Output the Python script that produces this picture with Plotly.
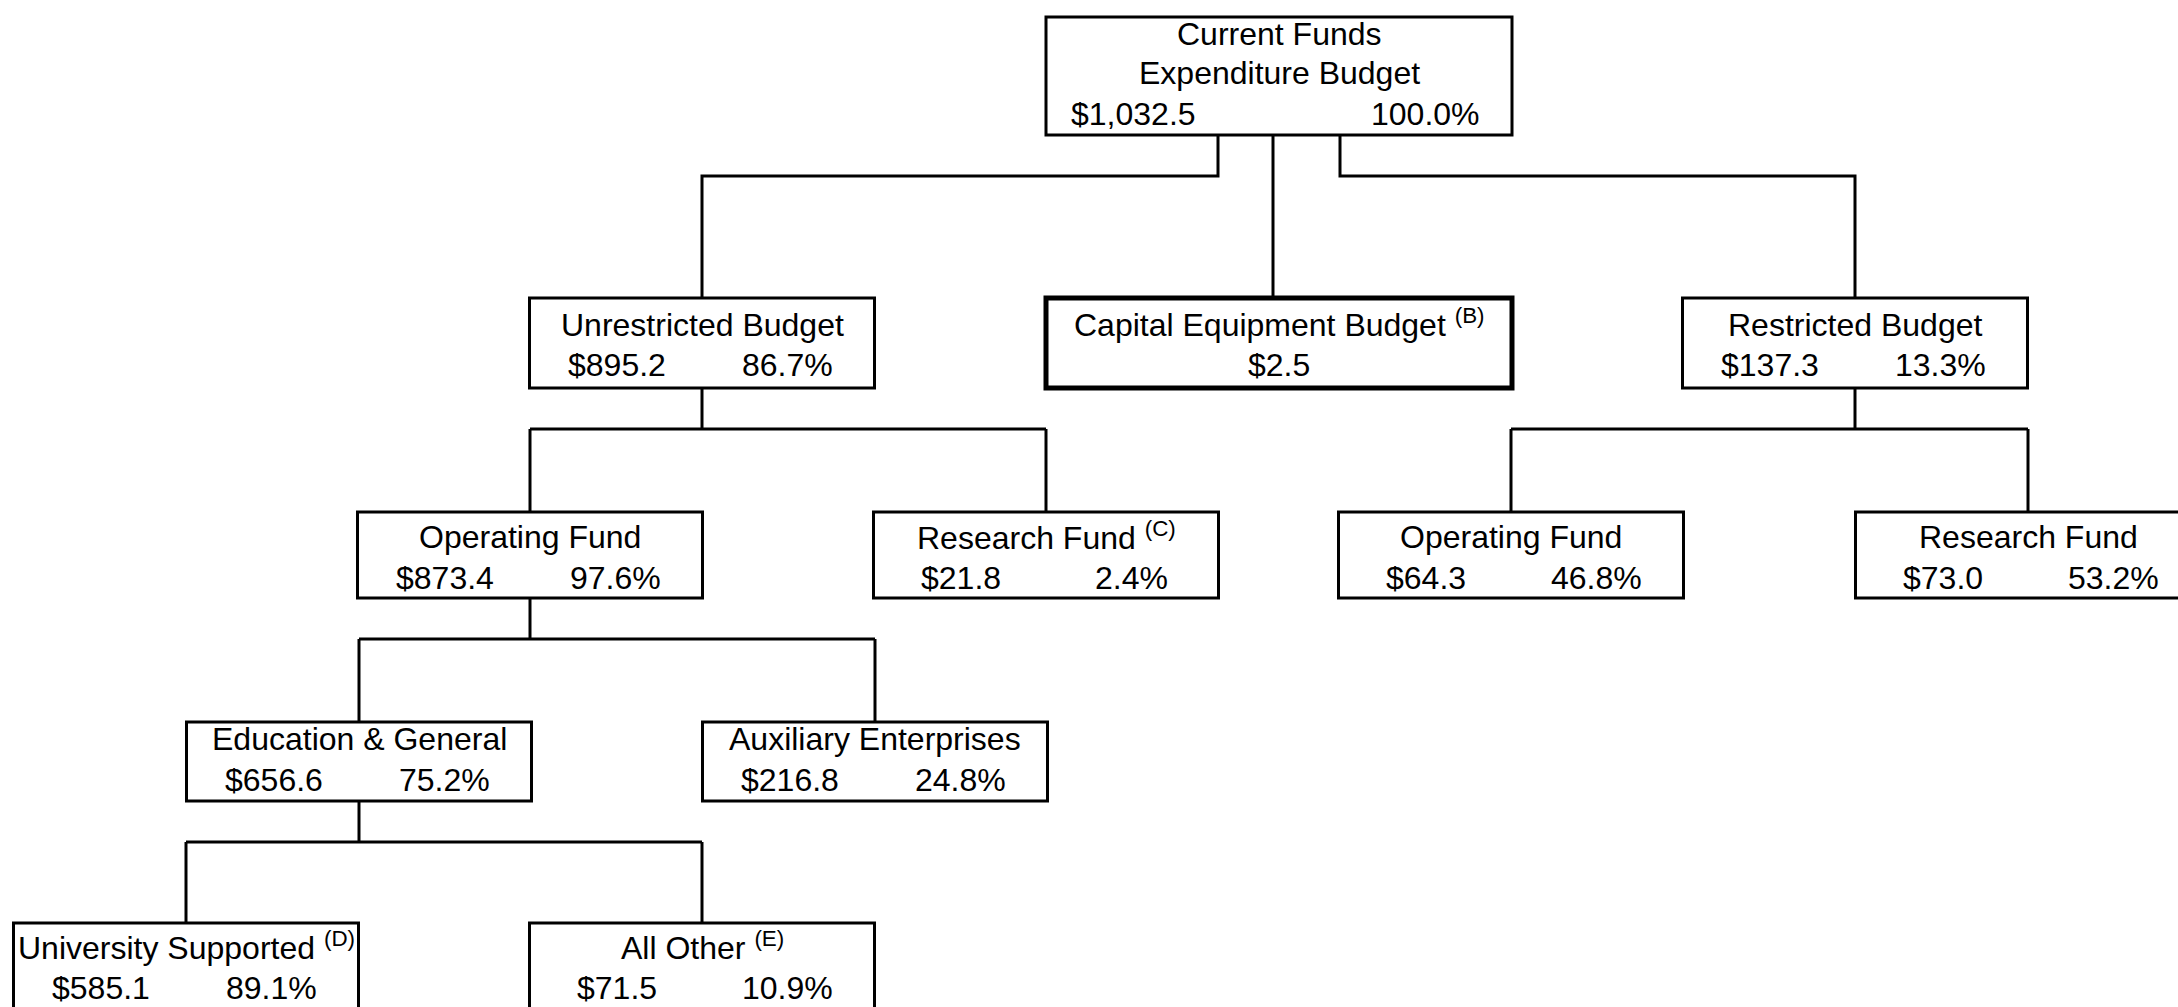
import plotly.graph_objects as go

# ---------------- data ----------------
node_ids = ["root", "unr", "cap", "res", "unr_op", "unr_rf",
            "res_op", "res_rf", "eg", "aux", "univ", "other"]
titles = [
    ["Current Funds", "Expenditure Budget"],
    ["Unrestricted Budget"],
    ["Capital Equipment Budget"],
    ["Restricted Budget"],
    ["Operating Fund"],
    ["Research Fund"],
    ["Operating Fund"],
    ["Research Fund"],
    ["Education & General"],
    ["Auxiliary Enterprises"],
    ["University Supported"],
    ["All Other"],
]
amounts = [1032.5, 895.2, 2.5, 137.3, 873.4, 21.8, 64.3, 73.0, 656.6, 216.8, 585.1, 71.5]
shares = [100.0, 86.7, None, 13.3, 97.6, 2.4, 46.8, 53.2, 75.2, 24.8, 89.1, 10.9]
notes = ["", "", "B", "", "", "C", "", "", "", "", "D", "E"]
parents = [None, "root", "root", "root", "unr", "unr", "res", "res",
           "unr_op", "unr_op", "eg", "eg"]

# ---------------- layout (pixel space) ----------------
W, H = 2178, 1007
center_x = {"root": 1279, "unr": 702, "cap": 1279, "res": 1855,
            "unr_op": 530, "unr_rf": 1046, "res_op": 1511, "res_rf": 2028,
            "eg": 359, "aux": 875, "univ": 186, "other": 702}
level_top = [17, 298, 512, 722, 923]
level_bottom = [135, 388, 598, 801, 1020]
text_off = [[16.5, 56, 96.5], [26.5, 67], [25, 65.5], [17, 58], [24, 65]]
SUP_SHIFT = -1.5
wide_nodes = {"root", "cap"}
thick_nodes = {"cap"}
root_drops = {"unr": -61, "cap": -6, "res": 61}
BOX_W, WIDE_W = 345, 466
VAL_INSET = 87
BUS_GAP = 41
FONT = "Liberation Sans, Arial, sans-serif"
FS = 32

idx = {n: i for i, n in enumerate(node_ids)}


def depth(n):
    d = 0
    while parents[idx[n]] is not None:
        n = parents[idx[n]]
        d += 1
    return d


fig = go.Figure()
shapes = []
annotations = []

# connectors
for p in node_ids:
    kids = [node_ids[i] for i, par in enumerate(parents) if par == p]
    if not kids:
        continue
    dp = depth(p)
    pb = level_bottom[dp]
    bus = pb + BUS_GAP
    if p == "root":
        for k in kids:
            dx = center_x[p] + root_drops[k]
            kt = level_top[depth(k)]
            if abs(dx - center_x[k]) < 10:
                shapes.append(dict(type="line", x0=dx, x1=dx, y0=pb, y1=kt))
            else:
                shapes.append(dict(type="path",
                                   path=f"M {dx} {pb} L {dx} {bus} L {center_x[k]} {bus} L {center_x[k]} {kt}"))
    else:
        cx = center_x[p]
        shapes.append(dict(type="line", x0=cx, x1=cx, y0=pb, y1=bus))
        xs = [center_x[k] for k in kids]
        shapes.append(dict(type="line", x0=min(xs), x1=max(xs), y0=bus, y1=bus))
        for k in kids:
            kt = level_top[depth(k)]
            shapes.append(dict(type="line", x0=center_x[k], x1=center_x[k], y0=bus, y1=kt))
for s in shapes:
    s.update(xref="x", yref="y", line=dict(color="black", width=3), layer="above")

# boxes and texts
for i, n in enumerate(node_ids):
    d = depth(n)
    w = WIDE_W if n in wide_nodes else BOX_W
    x0 = center_x[n] - w / 2
    x1 = center_x[n] + w / 2
    top, bot = level_top[d], level_bottom[d]
    lw = 5 if n in thick_nodes else 3
    shapes.append(dict(type="rect", xref="x", yref="y", x0=x0, x1=x1, y0=top, y1=bot,
                       line=dict(color="black", width=lw), fillcolor="white", layer="above"))
    offs = text_off[d]
    lines = list(titles[i])
    for j, t in enumerate(lines):
        yy = top + offs[j]
        if notes[i] and j == len(lines) - 1:
            t = t + f" <sup>({notes[i]})</sup>"
            yy += SUP_SHIFT
        annotations.append(dict(x=center_x[n], y=yy, text=t,
                                xanchor="center", yanchor="middle"))
    vy = top + offs[len(lines)]
    val = "${:,.1f}".format(amounts[i])
    if shares[i] is None:
        annotations.append(dict(x=center_x[n], y=vy, text=val,
                                xanchor="center", yanchor="middle"))
    else:
        annotations.append(dict(x=x0 + VAL_INSET, y=vy, text=val,
                                xanchor="center", yanchor="middle"))
        annotations.append(dict(x=x1 - VAL_INSET, y=vy, text="{:.1f}%".format(shares[i]),
                                xanchor="center", yanchor="middle"))
for a in annotations:
    a.update(xref="x", yref="y", showarrow=False,
             font=dict(family=FONT, size=FS, color="black"))

fig.update_layout(
    width=W, height=H,
    margin=dict(l=0, r=0, t=0, b=0),
    paper_bgcolor="white", plot_bgcolor="white",
    xaxis=dict(range=[0, W], visible=False, fixedrange=True),
    yaxis=dict(range=[H, 0], visible=False, fixedrange=True),
    shapes=shapes, annotations=annotations, showlegend=False,
)

fig.write_html("out.html", config={"displayModeBar": False},
               post_script="document.body.style.margin='0';document.body.style.overflow='hidden';")
